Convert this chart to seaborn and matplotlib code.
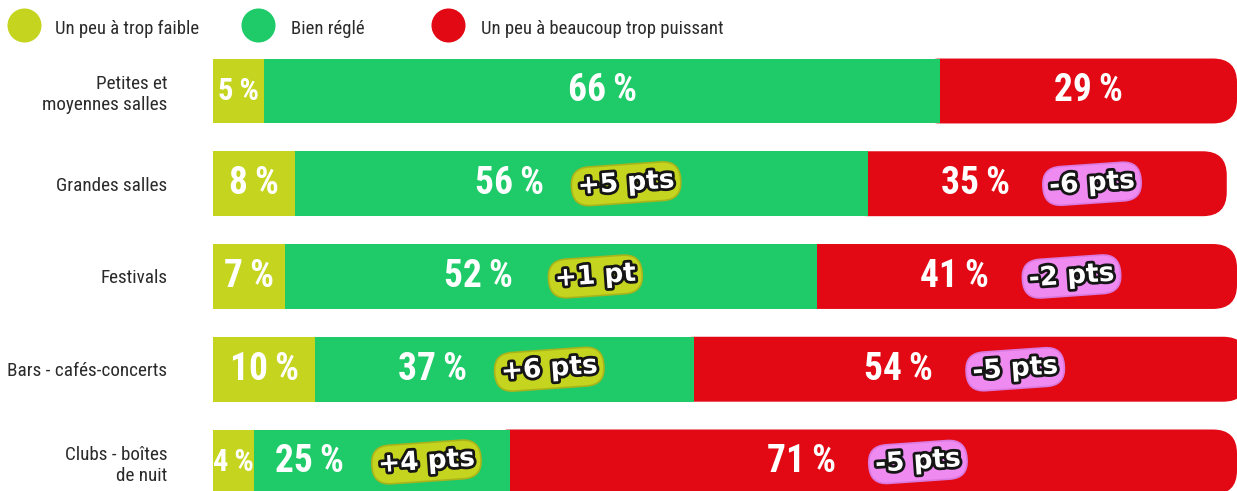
import matplotlib
matplotlib.use("Agg")
import matplotlib.pyplot as plt
import matplotlib.patheffects as pe
from matplotlib.patches import FancyBboxPatch
from matplotlib.lines import Line2D
from matplotlib import font_manager
import seaborn as sns
import pandas as pd

# ---------------- data ----------------
categories = ["Petites et\nmoyennes salles", "Grandes salles", "Festivals",
              "Bars - cafés-concerts", "Clubs - boîtes\nde nuit"]
trop_faible = [5, 8, 7, 10, 4]
bien_regle = [66, 56, 52, 37, 25]
trop_puissant = [29, 35, 41, 54, 71]
evol_bien = [None, "+5 pts", "+1 pt", "+6 pts", "+4 pts"]
evol_puissant = [None, "-6 pts", "-2 pts", "-5 pts", "-5 pts"]
series_labels = ["Un peu à trop faible", "Bien réglé", "Un peu à beaucoup trop puissant"]

# ---------------- style ----------------
col_faible = "#C4D41F"
col_bien = "#1ECB68"
col_puiss = "#E20814"
badge_bien = "#C4D41F"
badge_puiss = "#EE8AF0"
text_col = "#2b2b2b"


def pick(fams):
    avail = {f.name for f in font_manager.fontManager.ttflist}
    for f in fams:
        if f in avail:
            return f
    return "DejaVu Sans"


sns.set_theme(style="white")
narrow = pick(["Roboto Condensed", "Liberation Sans Narrow", "Open Sans Condensed", "DejaVu Sans"])
plt.rcParams["font.family"] = [narrow, "DejaVu Sans"]

df = pd.DataFrame({"cat": categories, "faible": trop_faible,
                   "bien": bien_regle, "puissant": trop_puissant})
df["cum_bien"] = df["faible"] + df["bien"]
df["cum_total"] = df["cum_bien"] + df["puissant"]

W, H = 1237, 491
fig = plt.figure(figsize=(W / 100, H / 100), dpi=100)
ax = fig.add_axes([213 / W, 0, 1 - 213 / W, 1])

bar_kw = dict(orient="h", saturation=1, width=0.7, linewidth=0, edgecolor="none", ax=ax)
sns.barplot(data=df, x="cum_total", y="cat", color=col_puiss, **bar_kw)
sns.barplot(data=df, x="cum_bien", y="cat", color=col_bien, **bar_kw)
sns.barplot(data=df, x="faible", y="cat", color=col_faible, **bar_kw)

ax.set_xlim(0, 100)
ax.set_ylim(4.313, -0.981)

# rounded right end for the red bars: keep only the red segment (plus a hidden overlap)
px_x = (W - 213) / 100.0      # px per x unit
px_y = H / (4.313 + 0.981)    # px per y unit
r_units = 24 / px_x
red_patches = list(ax.patches[:len(categories)])
for i, p in enumerate(red_patches):
    y, h = p.get_y(), p.get_height()
    x0 = df["cum_bien"][i] - r_units
    x1 = p.get_x() + p.get_width()
    p.remove()
    fb = FancyBboxPatch((x0, y), x1 - x0, h,
                        boxstyle=f"round,pad=0,rounding_size={r_units}",
                        mutation_aspect=px_x / px_y,
                        fc=col_puiss, ec="none", lw=0, zorder=0.5)
    ax.add_patch(fb)

for s in ax.spines.values():
    s.set_visible(False)
ax.grid(False)
ax.set_xticks([])
ax.set_xlabel("")
ax.set_ylabel("")
ax.tick_params(axis="y", length=0, pad=33, labelsize=13.8, labelcolor=text_col)

pct_kw = dict(textcoords="offset points", ha="center", va="center",
              fontweight="bold", color="white", zorder=5,
              annotation_clip=False)
badge_kw = dict(textcoords="offset points", ha="center", va="center",
                fontsize=19, fontweight="bold", color="white", zorder=6,
                rotation=4, family="DejaVu Sans", annotation_clip=False,
                path_effects=[pe.withStroke(linewidth=4, foreground="#151515")])


def pct(v):
    return f"{v}\u2009%"


def fs(v):
    return 22 if v < 6 else 27


for i in range(len(categories)):
    f = trop_faible[i]
    cb = df["cum_bien"][i]
    ct = df["cum_total"][i]
    # yellow
    ax.annotate(pct(f), xy=(f / 2, i), xytext=(0, 0), fontsize=fs(f), **pct_kw)
    # green
    gc = (f + cb) / 2
    if evol_bien[i]:
        ax.annotate(pct(bien_regle[i]), xy=(gc, i), xytext=(-52, 0), fontsize=27, **pct_kw)
        ax.annotate(evol_bien[i], xy=(gc, i), xytext=(32, 0),
                    bbox=dict(boxstyle="round,pad=0.24,rounding_size=0.7",
                              fc=badge_bien, ec="#aab41a", lw=1.2), **badge_kw)
    else:
        ax.annotate(pct(bien_regle[i]), xy=(gc, i), xytext=(0, 0), fontsize=27, **pct_kw)
    # red
    rc = (cb + ct) / 2
    if evol_puissant[i]:
        ax.annotate(pct(trop_puissant[i]), xy=(rc, i), xytext=(-52, 0), fontsize=27, **pct_kw)
        ax.annotate(evol_puissant[i], xy=(rc, i), xytext=(32, 0),
                    bbox=dict(boxstyle="round,pad=0.24,rounding_size=0.7",
                              fc=badge_puiss, ec="#d978de", lw=1.2), **badge_kw)
    else:
        ax.annotate(pct(trop_puissant[i]), xy=(rc, i), xytext=(0, 0), fontsize=27, **pct_kw)

# legend
leg_cols = [col_faible, col_bien, col_puiss]
circ_x = [24, 258, 448]
text_x = [55, 291, 481]
for lab, c, cx, tx in zip(series_labels, leg_cols, circ_x, text_x):
    fig.add_artist(Line2D([cx / W], [1 - 25 / H], marker="o", markersize=24.5,
                          color=c, markeredgewidth=0, linestyle="none",
                          transform=fig.transFigure))
    fig.text(tx / W, 1 - 29 / H, lab, ha="left", va="center",
             fontsize=13.5, color=text_col)

fig.savefig("out.png", dpi=100)
